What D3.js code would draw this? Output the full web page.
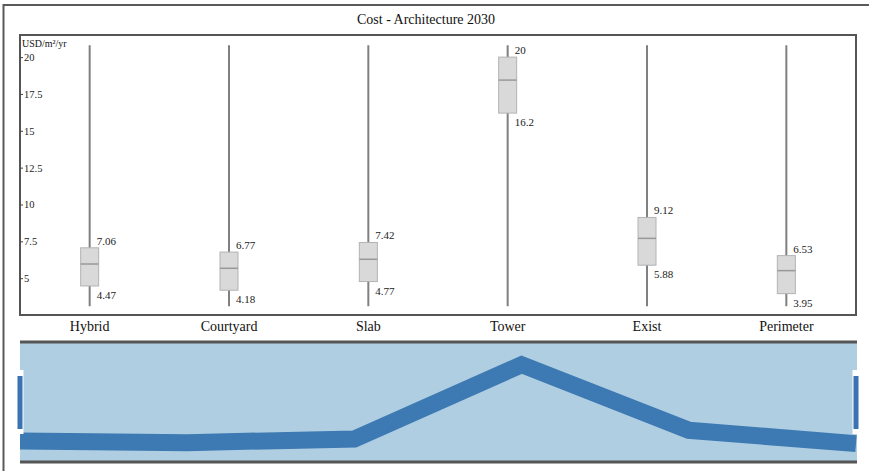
<!DOCTYPE html>
<html>
<head>
<meta charset="utf-8">
<script src="https://cdn.jsdelivr.net/npm/d3@7/dist/d3.min.js"></script>
<style>
  html, body { margin: 0; padding: 0; background: #fff; }
  svg { display: block; font-family: "Liberation Serif", "Times New Roman", serif; }
</style>
</head>
<body>
<svg id="chart" width="869" height="471"></svg>
<script>
// Cost per building archetype (USD/m²/yr), Architecture 2030 scenario
const categories = ["Hybrid", "Courtyard", "Slab", "Tower", "Exist", "Perimeter"];
const q1Values = [4.47, 4.18, 4.77, 16.2, 5.88, 3.95];
const q3Values = [7.06, 6.77, 7.42, 20, 9.12, 6.53];
const medianValues = [5.96, 5.67, 6.28, 18.44, 7.70, 5.51];
const whiskerLow = [3.1, 3.1, 3.1, 3.1, 3.1, 3.1];
const whiskerHigh = [20.8, 20.8, 20.8, 20.8, 20.8, 20.8];
const yTickValues = [5, 7.5, 10, 12.5, 15, 17.5, 20];
const yTickLabels = ["5", "7.5", "10", "12.5", "15", "17.5", "20"];
const yUnit = "USD/m²/yr";
const chartTitle = "Cost - Architecture 2030";

const rows = categories.map((c, i) => ({
  cat: c, q1: q1Values[i], q3: q3Values[i], med: medianValues[i],
  lo: whiskerLow[i], hi: whiskerHigh[i]
}));

const svg = d3.select("#chart");
const W = 869, H = 471;

// Outer frame (top and left edges)
svg.append("path")
  .attr("d", `M3.5,${H} L3.5,5 L${W},5`)
  .attr("fill", "none").attr("stroke", "#5a5a5a").attr("stroke-width", 2);

svg.append("text")
  .attr("x", 426).attr("y", 24)
  .attr("text-anchor", "middle")
  .attr("font-size", 14).attr("fill", "#111")
  .text(chartTitle);

// ---- Focus panel: box plots ----
const plot = { left: 20, right: 856, top: 35, bottom: 315 };

const x = d3.scaleBand().domain(categories).range([plot.left, plot.right]).padding(0);
const y = d3.scaleLinear().domain([2.5, 21.5]).range([plot.bottom, plot.top]);

svg.append("rect")
  .attr("x", plot.left).attr("y", plot.top)
  .attr("width", plot.right - plot.left).attr("height", plot.bottom - plot.top)
  .attr("fill", "#fff").attr("stroke", "#555").attr("stroke-width", 2);

// y axis drawn inside the frame
const yAxis = d3.axisRight(y)
  .tickValues(yTickValues)
  .tickFormat((d, i) => yTickLabels[i])
  .tickSize(3).tickPadding(1);
const yg = svg.append("g").attr("transform", `translate(${plot.left},0)`).call(yAxis);
yg.select(".domain").remove();
yg.selectAll(".tick line").attr("stroke", "#444");
yg.selectAll(".tick text")
  .attr("font-family", "Liberation Serif, serif")
  .attr("font-size", 10.5).attr("fill", "#222");

svg.append("text")
  .attr("x", 22).attr("y", 47)
  .attr("font-size", 10).attr("fill", "#111")
  .text(yUnit);

const boxW = 18;
const g = svg.selectAll("g.box").data(rows).join("g").attr("class", "box")
  .attr("transform", d => `translate(${x(d.cat) + x.bandwidth() / 2},0)`);

g.append("line")
  .attr("x1", 0).attr("x2", 0)
  .attr("y1", d => y(d.hi)).attr("y2", d => y(d.lo))
  .attr("stroke", "#808080").attr("stroke-width", 2);

g.append("rect")
  .attr("x", -boxW / 2).attr("width", boxW)
  .attr("y", d => y(d.q3)).attr("height", d => y(d.q1) - y(d.q3))
  .attr("fill", "#d9d9d9").attr("stroke", "#b3b3b3").attr("stroke-width", 1);

g.append("line")
  .attr("x1", -boxW / 2).attr("x2", boxW / 2)
  .attr("y1", d => y(d.med)).attr("y2", d => y(d.med))
  .attr("stroke", "#999").attr("stroke-width", 1.5);

g.append("text")
  .attr("x", 7).attr("y", d => y(d.q3) - 3)
  .attr("font-size", 11).attr("fill", "#222")
  .text(d => String(d.q3));

g.append("text")
  .attr("x", 7).attr("y", d => y(d.q1) + 13)
  .attr("font-size", 11).attr("fill", "#222")
  .text(d => String(d.q1));

// category axis below the focus panel
const xAxis = d3.axisBottom(x).tickSize(0).tickPadding(0);
const xg = svg.append("g").attr("transform", `translate(0,${plot.bottom + 6})`).call(xAxis);
xg.select(".domain").remove();
xg.selectAll(".tick text")
  .attr("font-family", "Liberation Serif, serif")
  .attr("font-size", 14).attr("fill", "#111").attr("dy", "0.71em");

// ---- Context panel: median line over all archetypes ----
const ctx = { left: 20, right: 857, top: 343, bottom: 461 };
const xc = d3.scalePoint().domain(categories).range([ctx.left, ctx.right - 1]);
const yc = d3.scaleLinear().domain([2.5, 21.5]).range([462, 346]);

svg.append("defs").append("clipPath").attr("id", "ctxClip")
  .append("rect")
  .attr("x", ctx.left).attr("y", ctx.top)
  .attr("width", ctx.right - ctx.left).attr("height", ctx.bottom - ctx.top);

svg.append("rect")
  .attr("x", ctx.left).attr("y", ctx.top)
  .attr("width", ctx.right - ctx.left).attr("height", ctx.bottom - ctx.top)
  .attr("fill", "#afcee2");

const medLine = d3.line().x(d => xc(d.cat)).y(d => yc(d.med));
svg.append("path")
  .datum(rows)
  .attr("clip-path", "url(#ctxClip)")
  .attr("d", medLine)
  .attr("fill", "none")
  .attr("stroke", "#3d79b2")
  .attr("stroke-width", 17)
  .attr("stroke-linejoin", "miter")
  .attr("stroke-linecap", "butt");

[ctx.top - 1, ctx.bottom + 1].forEach(yy => {
  svg.append("line")
    .attr("x1", ctx.left).attr("x2", ctx.right)
    .attr("y1", yy).attr("y2", yy)
    .attr("stroke", "#555").attr("stroke-width", 3);
});

// brush handles at both ends of the selection
[ctx.left, ctx.right - 1].forEach(hx => {
  svg.append("rect")
    .attr("x", hx - 3.5).attr("y", 370).attr("width", 7).attr("height", 64)
    .attr("fill", "#fff");
  svg.append("rect")
    .attr("x", hx - 2.5).attr("y", 376).attr("width", 5).attr("height", 53)
    .attr("fill", "#3a72b2");
});
</script>
</body>
</html>
